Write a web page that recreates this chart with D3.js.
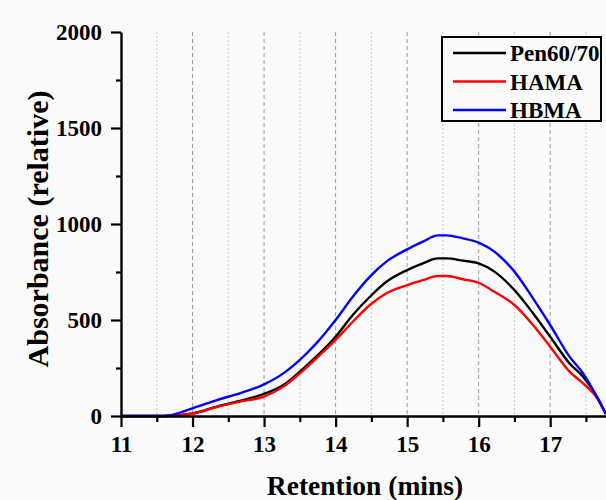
<!DOCTYPE html>
<html>
<head>
<meta charset="utf-8">
<script src="https://cdn.jsdelivr.net/npm/d3@7"></script>
<style>
  html, body { margin: 0; padding: 0; background: #fafafa; }
  svg { display: block; }
  text { font-family: "Liberation Serif", "Times New Roman", serif; font-weight: bold; fill: #000; }
</style>
</head>
<body>
<svg id="chart" width="606" height="500"></svg>
<script>
// ---- data ----
const retention = [11.0, 11.6, 12.0, 12.34, 12.66, 13.0, 13.27, 13.5, 13.73, 14.0, 14.24, 14.48, 14.71, 15.0, 15.22, 15.43, 15.55, 15.78, 16.0, 16.22, 16.5, 16.76, 17.0, 17.27, 17.46, 17.64, 17.78];
const pen6070 = [0, 0, 14, 49, 78, 115, 161, 231, 309, 413, 526, 621, 699, 760, 795, 821, 821, 809, 795, 752, 656, 535, 413, 274, 205, 109, 10];
const hama    = [0, 0, 12, 47, 75, 101, 153, 222, 300, 396, 491, 578, 639, 682, 708, 729, 729, 712, 694, 647, 578, 474, 361, 231, 170, 101, 10];
const hbma    = [0, 0, 40, 83, 118, 165, 222, 292, 378, 500, 621, 726, 804, 868, 908, 941, 941, 925, 903, 856, 752, 613, 474, 309, 222, 109, 10];
const seriesNames = ["Pen60/70", "HAMA", "HBMA"];
const seriesColors = ["#000000", "#ff0000", "#0000ff"];
const xTicks = [11, 12, 13, 14, 15, 16, 17];
const yTicks = [0, 500, 1000, 1500, 2000];

const series = [pen6070, hama, hbma];

const svg = d3.select("#chart");
const x = d3.scaleLinear().domain([11, 17.78]).range([121, 606]);
const y = d3.scaleLinear().domain([0, 2000]).range([416, 32]);

// grid lines
const halfTicks = d3.range(11.5, 17.8, 0.5);
svg.append("g").selectAll("line").data(halfTicks.filter(d => d > 11)).join("line")
  .attr("x1", d => x(d)).attr("x2", d => x(d))
  .attr("y1", y(2000)).attr("y2", y(0))
  .attr("stroke", d => Number.isInteger(d) ? "#9a9a9a" : "#c8c8c8")
  .attr("stroke-width", 1)
  .attr("stroke-dasharray", d => Number.isInteger(d) ? "4,3" : "2,2");

// lines
const line = d3.line().x((d, i) => x(retention[i])).y(d => y(d)).curve(d3.curveMonotoneX);
svg.append("g").selectAll("path").data(series).join("path")
  .attr("d", d => line(d))
  .attr("fill", "none")
  .attr("stroke", (d, i) => seriesColors[i])
  .attr("stroke-width", 2.4)
  .attr("stroke-linejoin", "round");

function styleText(g) {
  g.selectAll("text").attr("font-size", 23)
    .style("font-family", "'Liberation Serif', serif").style("font-weight", "bold").attr("fill", "#000");
}

// axes
const xAxis = d3.axisBottom(x).tickValues(xTicks).tickFormat(d3.format("d")).tickSize(11).tickSizeOuter(0).tickPadding(9);
const gx = svg.append("g").attr("transform", `translate(0,${y(0)})`).call(xAxis);
gx.select(".domain").attr("stroke-width", 2.4);
gx.selectAll(".tick line").attr("stroke-width", 2.2);
styleText(gx);

const xMinor = d3.axisBottom(x).tickValues(halfTicks.filter(d => !Number.isInteger(d))).tickFormat("").tickSize(6).tickSizeOuter(0);
const gxm = svg.append("g").attr("transform", `translate(0,${y(0)})`).call(xMinor);
gxm.select(".domain").remove();
gxm.selectAll(".tick line").attr("stroke-width", 2.2);

const yAxis = d3.axisLeft(y).tickValues(yTicks).tickFormat(d3.format("d")).tickSize(10).tickSizeOuter(0).tickPadding(9);
const gy = svg.append("g").attr("transform", `translate(${x(11)},0)`).call(yAxis);
gy.select(".domain").attr("stroke-width", 2.4);
gy.selectAll(".tick line").attr("stroke-width", 2.2);
styleText(gy);

const yMinor = d3.axisLeft(y).tickValues([250, 750, 1250, 1750]).tickFormat("").tickSize(5).tickSizeOuter(0);
const gym = svg.append("g").attr("transform", `translate(${x(11)},0)`).call(yMinor);
gym.select(".domain").remove();
gym.selectAll(".tick line").attr("stroke-width", 2.2);

// axis titles
svg.append("text").attr("x", 365).attr("y", 495).attr("text-anchor", "middle")
  .attr("font-size", 27.5).text("Retention (mins)");
svg.append("text").attr("transform", "translate(48,229) rotate(-90)").attr("text-anchor", "middle")
  .attr("font-size", 30).text("Absorbance (relative)");

// legend
const lg = svg.append("g");
lg.append("rect").attr("x", 442).attr("y", 37).attr("width", 159).attr("height", 84)
  .attr("fill", "#fafafa").attr("stroke", "#000").attr("stroke-width", 2);
seriesNames.forEach((name, i) => {
  const yy = 53 + i * 28.5;
  lg.append("line").attr("x1", 453).attr("x2", 506).attr("y1", yy).attr("y2", yy)
    .attr("stroke", seriesColors[i]).attr("stroke-width", 2.4);
  lg.append("text").attr("x", 510).attr("y", yy + 8).attr("font-size", 23).text(name);
});
</script>
</body>
</html>
